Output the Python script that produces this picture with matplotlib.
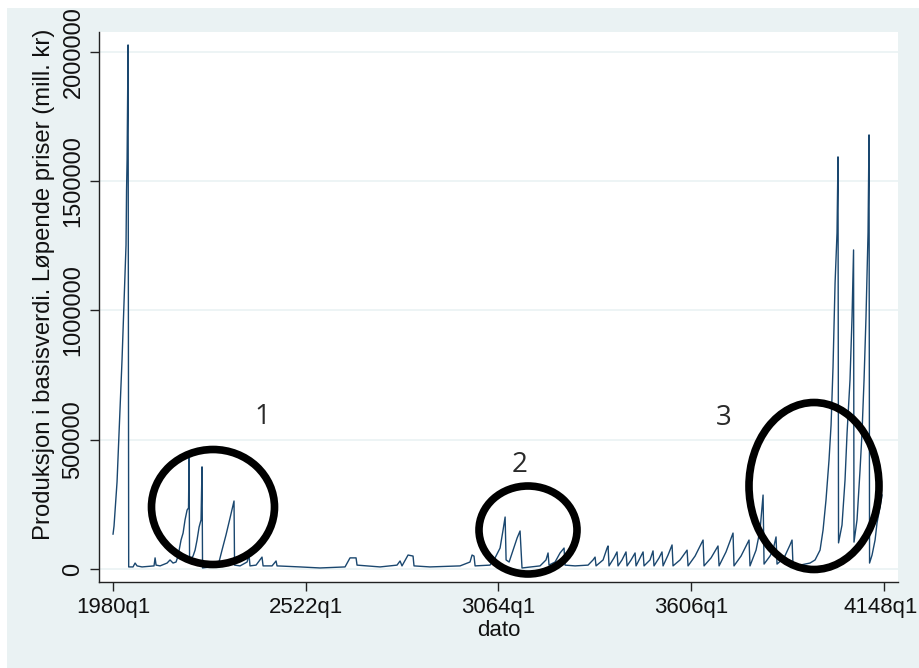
import matplotlib
matplotlib.use('Agg')
import matplotlib.pyplot as plt
import matplotlib.transforms as mtransforms
from matplotlib.patches import Ellipse, Rectangle

matplotlib.rcParams['font.family'] = ['Liberation Sans', 'DejaVu Sans']

# x = Stata quarterly date (quarters since 1960q1), y = mill. kr
dato = [80, 91, 114, 125, 136, 159, 170, 181, 193, 204, 215, 226, 232, 238, 243, 249, 256,
        305, 328, 350, 406, 541, 553, 564, 609, 688, 721, 755, 789, 811, 845, 868, 890, 913,
        929, 935, 941, 980, 1003, 1025, 1048, 1070, 1081, 1087, 1171, 1261, 1306, 1351, 1396,
        1430, 1441, 1447, 1509, 1588, 1610, 1621, 1689, 1756, 1768, 1869, 1914, 1925, 2184,
        2409, 2690, 2746, 2814, 2825, 3084, 3275, 3309, 3331, 3399, 3455, 3466, 3646, 3984,
        4096, 4119, 4141, 4153, 4321, 4378, 4434, 4468, 4491, 4502, 4536, 4581, 4626, 4659,
        4681, 4884, 4951, 4974, 4985, 5053, 5109, 5154, 5165, 5278, 5424, 5480, 5503, 5514,
        5593, 5638, 5649, 5660, 5716, 5750, 5761, 5806, 5851, 5863, 5908, 5953, 5964, 6009,
        6043, 6054, 6121, 6155, 6166, 6223, 6256, 6268, 6324, 6369, 6380, 6459, 6538, 6549,
        6628, 6718, 6729, 6808, 6886, 6898, 6976, 7055, 7066, 7145, 7235, 7246, 7314, 7359,
        7393, 7404, 7471, 7505, 7539, 7550, 7629, 7696, 7719, 7730, 7809, 7921, 7978, 8034,
        8068, 8101, 8135, 8158, 8180, 8203, 8225, 8236, 8242, 8281, 8315, 8338, 8371, 8394,
        8411, 8416, 8450, 8484, 8506, 8529, 8551, 8574, 8585, 8591, 8619, 8653, 8675, 8709,
        8731]
produksjon = [135000, 166000, 286000, 337000, 429000, 627000, 712000, 808000, 924000, 1040000,
              1129000, 1253000, 1466000, 1582000, 1775000, 2027000, 8000,
              8000, 23000, 12000, 8000, 12000, 43000, 15000, 12000, 23000, 35000, 23000, 27000,
              50000, 112000, 139000, 190000, 228000, 236000, 429000, 35000, 50000, 73000, 112000,
              162000, 190000, 395000, 4000, 8000, 12000, 73000, 132000, 197000, 248000, 263000,
              15000, 12000, 27000, 54000, 12000, 15000, 46000, 12000, 12000, 31000, 12000, 8000,
              4000, 8000, 43000, 43000, 15000, 8000, 15000, 31000, 12000, 54000, 50000, 12000,
              8000, 12000, 27000, 54000, 50000, 12000, 15000, 43000, 81000, 151000, 201000,
              35000, 27000, 73000, 120000, 147000, 4000, 12000, 35000, 62000, 15000, 27000,
              62000, 81000, 15000, 12000, 15000, 35000, 46000, 12000, 35000, 81000, 89000,
              12000, 43000, 66000, 12000, 35000, 66000, 12000, 35000, 62000, 12000, 43000,
              66000, 12000, 35000, 70000, 12000, 43000, 66000, 12000, 54000, 93000, 12000,
              35000, 73000, 12000, 50000, 112000, 12000, 43000, 89000, 12000, 66000, 139000,
              12000, 50000, 112000, 12000, 73000, 151000, 286000, 19000, 50000, 73000, 124000,
              19000, 43000, 93000, 112000, 12000, 15000, 23000, 35000, 73000, 151000, 267000,
              422000, 557000, 781000, 1106000, 1300000, 1594000, 101000, 170000, 344000, 526000,
              731000, 975000, 1234000, 104000, 190000, 383000, 526000, 731000, 975000, 1300000,
              1679000, 23000, 54000, 112000, 178000, 240000, 286000]

xtick_pos = [80, 2248, 4416, 6584, 8752]
xtick_labels = ['1980q1', '2522q1', '3064q1', '3606q1', '4148q1']
ytick_pos = [0, 500000, 1000000, 1500000, 2000000]

W, H = 919, 668
bg = '#EAF2F3'

fig = plt.figure(figsize=(W / 100, H / 100), dpi=100)
fig.patch.set_facecolor('white')
# stata graph region (thin white strip left/top like the screenshot)
fig.patches.append(Rectangle((7 / W, 0), 1, 1 - 8 / H, transform=fig.transFigure,
                             facecolor=bg, edgecolor='none', zorder=-10))

ax = fig.add_axes([99 / W, 1 - 582 / H, (898 - 99) / W, (582 - 32) / H])
ax.set_facecolor('white')
ax.plot(dato, produksjon, color='#1A476F', linewidth=1.0, zorder=3)

ax.set_xlim(-78, 8911)
ax.set_ylim(-50300, 2077000)

ax.set_xticks(xtick_pos)
ax.set_xticklabels(xtick_labels, fontsize=16)
ax.set_yticks(ytick_pos)
ax.set_yticklabels([str(v) for v in ytick_pos], rotation=90, va='center', fontsize=17)

ax.grid(axis='y', color=bg, linewidth=1.2, zorder=0)
ax.set_axisbelow(True)
for side in ['top', 'right']:
    ax.spines[side].set_visible(False)
for side in ['left', 'bottom']:
    ax.spines[side].set_color('#222222')
    ax.spines[side].set_linewidth(1.0)
ax.tick_params(axis='both', direction='out', length=6.5, width=1.0, color='#222222',
               labelcolor='#111111', pad=4)

# last x label sits right at the image edge, nudge it in a little
last = ax.get_xticklabels()[-1]
last.set_transform(last.get_transform() + mtransforms.ScaledTranslation(-3 / 100, 0, fig.dpi_scale_trans))

ax.set_xlabel('dato', fontsize=16, color='#111111', labelpad=2)
fig.text(44 / W, 1 - 284 / H, 'Produksjon i basisverdi. Løpende priser (mill. kr)',
         rotation=90, ha='center', va='center', fontsize=17.2, color='#111111')

# hand drawn circles + numbers
circles = [(213, 507, 123, 115), (528, 530, 98, 88), (814, 486, 130, 167)]
for cx, cy, w, h in circles:
    fig.add_artist(Ellipse((cx / W, 1 - cy / H), w / W, h / H, transform=fig.transFigure,
                           fill=False, edgecolor='black', linewidth=5.5, zorder=10))

for txt, tx, ty in [('1', 262, 417), ('2', 520, 465), ('3', 724, 418)]:
    fig.text(tx / W, 1 - ty / H, txt, fontsize=20, family='Open Sans', color='#2a2a2a',
             ha='center', va='center')

fig.savefig('out.png', dpi=100)
